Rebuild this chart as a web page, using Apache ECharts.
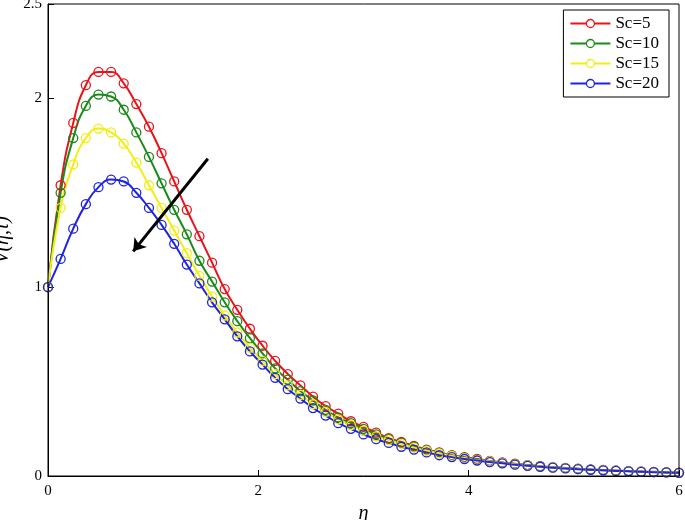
<!DOCTYPE html>
<html><head><meta charset="utf-8">
<script src="https://cdn.jsdelivr.net/npm/echarts@6/dist/echarts.min.js"></script>
<style>html,body{margin:0;padding:0;background:#fff}#c{width:685px;height:520px}</style>
</head><body><div id="c"></div>
<script>
// eta grid, step 0.12
var eta=[];
for(var i=0;i<=50;i++){eta.push(+(i*0.12).toFixed(2));}

var sc5=[1.00,1.54,1.87,2.07,2.14,2.14,2.08,1.97,1.85,1.71,1.56,1.41,1.27,1.13,0.99,
 0.88,0.78,0.69,0.61,0.54,0.48,0.42,0.37,0.33,0.29,0.26,0.23,0.20,0.18,0.16,0.14,0.125,0.11,0.10,0.09,
 0.08,0.072,0.065,0.058,0.052,0.047,0.043,0.039,0.035,0.032,0.029,0.026,0.024,0.022,0.020,0.018];
var sc10=[1.00,1.50,1.79,1.96,2.02,2.01,1.94,1.82,1.69,1.55,1.41,1.28,1.14,1.03,0.92,
 0.82,0.73,0.65,0.57,0.51,0.45,0.40,0.35,0.31,0.28,0.25,0.22,0.195,0.175,0.155,0.137,0.122,0.108,0.097,0.087,
 0.078,0.07,0.063,0.057,0.051,0.046,0.042,0.038,0.034,0.031,0.028,0.026,0.023,0.021,0.019,0.017];
var sc15=[1.00,1.42,1.65,1.79,1.84,1.82,1.76,1.66,1.54,1.42,1.30,1.18,1.06,0.95,0.85,
 0.76,0.68,0.61,0.54,0.48,0.43,0.38,0.34,0.30,0.27,0.24,0.21,0.19,0.17,0.15,0.134,0.12,0.106,0.095,0.085,
 0.077,0.069,0.062,0.056,0.05,0.045,0.041,0.037,0.034,0.031,0.028,0.025,0.023,0.021,0.019,0.017];
var sc20=[1.00,1.15,1.31,1.44,1.53,1.57,1.56,1.50,1.42,1.33,1.23,1.12,1.02,0.92,0.83,
 0.74,0.66,0.59,0.52,0.46,0.41,0.36,0.32,0.28,0.25,0.22,0.195,0.175,0.155,0.14,0.125,0.11,0.10,0.09,0.082,
 0.074,0.067,0.06,0.054,0.049,0.044,0.04,0.036,0.033,0.03,0.027,0.025,0.022,0.02,0.019,0.017];
var names=['Sc=5','Sc=10','Sc=15','Sc=20'];
var colors=['#e8141c','#1a8a1a','#f2ee12','#1f24e0'];
var arrowFrom=[1.52,1.68], arrowTo=[0.81,1.19];

function pairs(ys){return ys.map(function(y,k){return [eta[k],y];});}
var data=[sc5,sc10,sc15,sc20];
var series=data.map(function(d,k){
  return {
    name:names[k],type:'line',data:pairs(d),smooth:true,
    symbol:'circle',symbolSize:9,
    lineStyle:{color:colors[k],width:2},
    itemStyle:{color:'rgba(255,255,255,0)',borderColor:colors[k],borderWidth:1.3},
    emphasis:{disabled:true}
  };
});
series.push({
  type:'line',data:[],silent:true,
  markLine:{silent:true,symbol:['none','arrow'],symbolSize:12,label:{show:false},
    lineStyle:{color:'#000',width:3,type:'solid'},
    data:[[{coord:arrowFrom},{coord:arrowTo}]]}
});

var chart=echarts.init(document.getElementById('c'));
chart.setOption({
  animation:false,
  textStyle:{fontFamily:'Liberation Serif'},
  grid:{left:48,right:6,top:4,bottom:44,containLabel:false,outerBoundsMode:'none'},
  legend:{
    data:names.map(function(n,k){return {name:n,itemStyle:{color:'#fff',borderColor:colors[k],borderWidth:1.3}};}),
    orient:'vertical',right:16,top:10,itemGap:3,itemWidth:40,itemHeight:10,
    backgroundColor:'#fff',borderColor:'#000',borderWidth:1,padding:[5,10,5,6],
    textStyle:{fontFamily:'Liberation Serif',fontSize:17,color:'#000'}
  },
  xAxis:{type:'value',min:0,max:6,interval:2,
    name:'η',nameLocation:'middle',nameGap:26,
    nameTextStyle:{fontFamily:'Liberation Serif',fontStyle:'italic',fontSize:20,color:'#000'},
    axisLine:{onZero:false,lineStyle:{color:'#000'}},
    axisTick:{inside:true,length:6,lineStyle:{color:'#000'}},
    axisLabel:{color:'#000',fontSize:15,margin:8,fontFamily:'Liberation Serif'},
    splitLine:{show:false}},
  yAxis:{type:'value',min:0,max:2.5,interval:0.5,
    name:'V(η,τ)',nameLocation:'middle',nameGap:26,nameRotate:90,
    nameTextStyle:{fontFamily:'Liberation Serif',fontStyle:'italic',fontSize:20,color:'#000'},
    axisLine:{onZero:false,lineStyle:{color:'#000'}},
    axisTick:{inside:true,length:6,customValues:[0,1,2,2.5],lineStyle:{color:'#000'}},
    axisLabel:{color:'#000',fontSize:15,margin:6,fontFamily:'Liberation Serif',customValues:[0,1,2,2.5]},
    splitLine:{show:false}},
  graphic:[{type:'rect',shape:{x:48,y:4,width:631,height:472},style:{fill:'none',stroke:'#000',lineWidth:1},silent:true,z:100}],
  series:series
});
</script></body></html>
